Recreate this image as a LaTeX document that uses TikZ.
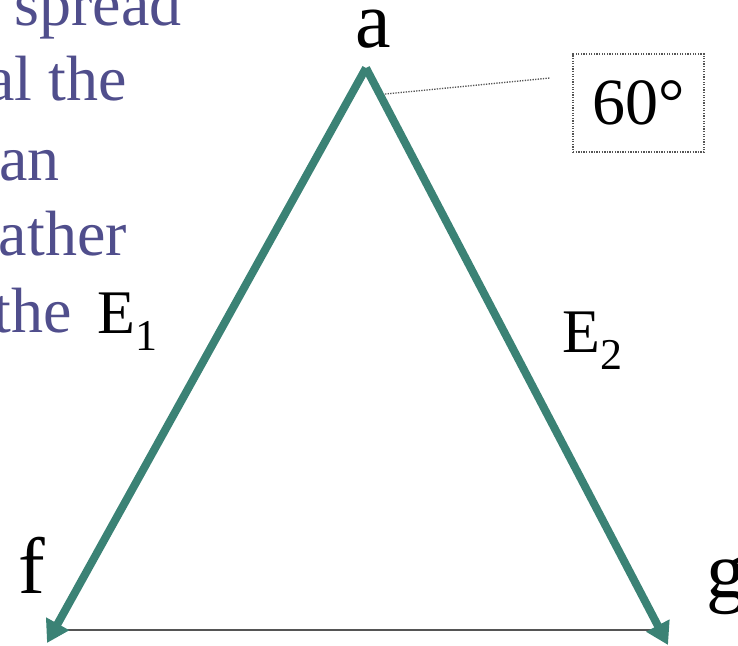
\documentclass[tikz,border=0pt]{standalone}
\usepackage{fontspec}
\setmainfont{Liberation Serif}
\usetikzlibrary{arrows.meta}
\definecolor{teal1}{RGB}{59,130,117}
\definecolor{slate}{RGB}{80,78,140}
\definecolor{lgray}{RGB}{85,85,85}
\begin{document}
\begin{tikzpicture}[x=1pt,y=-1pt,
  edge/.style={draw=teal1,line width=8pt,-{Triangle[length=22pt,width=25pt]}},
  base/.style={draw=lgray,line width=1.8pt},
  leader/.style={draw=lgray,line width=1.3pt,dash pattern=on 1.3pt off 1.3pt},
  bluetext/.style={text=slate,font=\fontsize{64}{64}\selectfont,inner sep=0pt,anchor=base east},
  vlabel/.style={font=\fontsize{80}{80}\selectfont,inner sep=0pt},
  elabel/.style={font=\fontsize{62}{62}\selectfont,inner sep=0pt,anchor=base west},
  anglebox/.style={draw=lgray,line width=1.3pt,dash pattern=on 1.3pt off 1.3pt,minimum width=131pt,minimum height=98pt,inner sep=0pt,font=\fontsize{66}{66}\selectfont}]
\useasboundingbox (0,0) rectangle (738,645);
\clip (0,0) rectangle (738,645);
% left clipped text
\node[bluetext] (t1) at (182,25) {spread};
\node[bluetext] (t2) at (127,100) {al the};
\node[bluetext] (t3) at (60,180) {an};
\node[bluetext] (t4) at (127,255) {ather};
\node[bluetext] (t5) at (72,332) {the};
% vertices
\coordinate (apex) at (366,68);
\coordinate (ftip) at (47,643);
\coordinate (gtip) at (668,645);
\coordinate (bl) at (60,630);
\coordinate (br) at (668,630);
% base line
\draw[base] (bl) -- (br);
% edges
\draw[edge] (apex) -- (ftip);
\draw[edge] (apex) -- (gtip);
% labels
\node[vlabel,anchor=base] (la) at (373,47) {a};
\node[vlabel,anchor=base west] (lf) at (18,593) {f};
\node[vlabel,anchor=base west] (lg) at (706,597) {g};
\node[elabel] (e1) at (97,333) {E\raisebox{-17pt}{\fontsize{44}{44}\selectfont 1}};
\node[elabel] (e2) at (562,352) {E\raisebox{-17pt}{\fontsize{44}{44}\selectfont 2}};
% angle box and leader
\node[anglebox] (ang) at (638.5,103) {60°};
\coordinate (l1) at (385,94);
\coordinate (l2) at (550,78);
\draw[leader] (l1) -- (l2);
\end{tikzpicture}
\end{document}
